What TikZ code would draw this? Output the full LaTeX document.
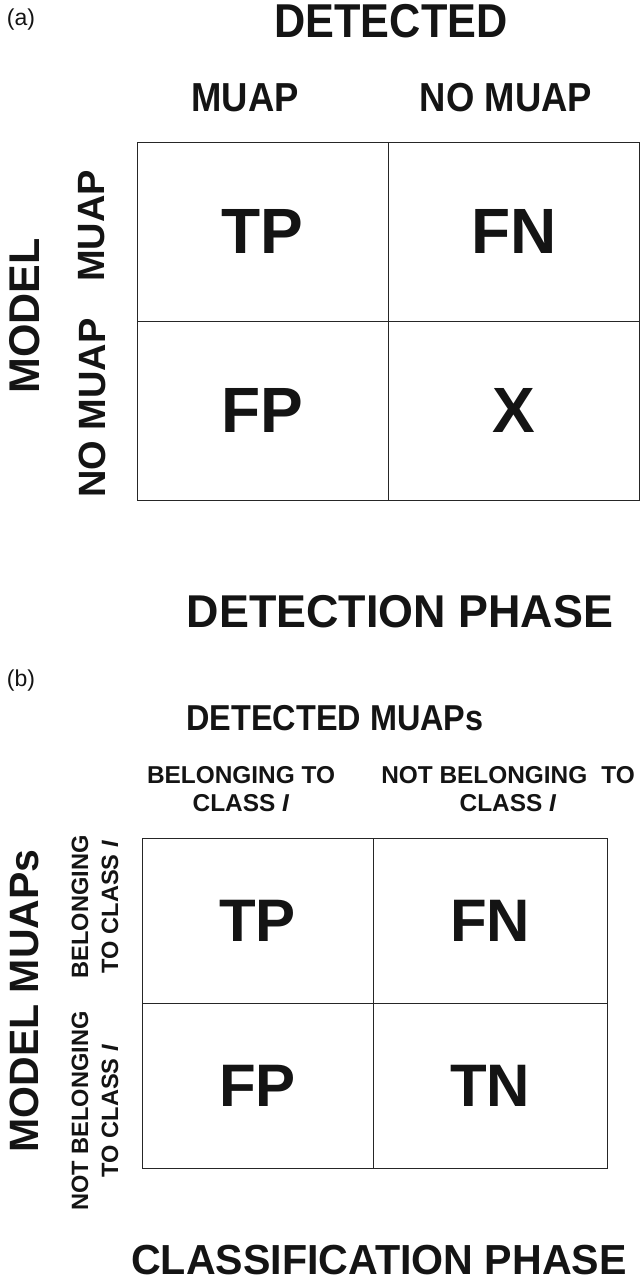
\documentclass[tikz,border=0pt]{standalone}
\usepackage{fontspec}
\setmainfont{Liberation Sans}
\begin{document}
\begin{tikzpicture}[x=1pt,y=-1pt,
  every node/.style={inner sep=0pt,outer sep=0pt,text=black!92},
  fs/.style={font=\bfseries\fontsize{#1}{#1}\selectfont},
  tag/.style={font=\fontsize{23}{23}\selectfont},
  cell/.style={draw=black!85,line width=0.9pt,font=\bfseries\fontsize{#1}{#1}\selectfont},
  head/.style={font=\bfseries\fontsize{24.4}{28}\selectfont,align=center},
  side/.style={font=\bfseries\fontsize{23.6}{30}\selectfont,align=center,rotate=90}
]
\useasboundingbox (0,0) rectangle (640,1281);

% ---------------- (a) detection phase ----------------
\node[tag] (taga) at (21,20) {(a)};
\node[fs=47.5,xscale=0.91] (deta) at (391,21) {DETECTED};
\node[fs=40.5,xscale=0.9] (colA1) at (245,98) {MUAP};
\node[fs=40.5,xscale=0.9] (colA2) at (506,98) {NO MUAP};

\node[cell=64,minimum width=251,minimum height=179] (a11) at (262.5,231.5) {TP};
\node[cell=64,minimum width=251.5,minimum height=179] (a12) at (513.75,231.5) {FN};
\node[cell=64,minimum width=251,minimum height=179] (a21) at (262.5,410.5) {FP};
\node[cell=64,minimum width=251.5,minimum height=179] (a22) at (513.75,410.5) {X};

\node[fs=43,rotate=90] (modela) at (25,316) {MODEL};
\node[fs=38,rotate=90] (rowA1) at (92,226) {MUAP};
\node[fs=38,rotate=90] (rowA2) at (92,408) {NO MUAP};

\node[fs=46,xscale=0.975] (phasea) at (400,612) {DETECTION PHASE};

% ---------------- (b) classification phase ----------------
\node[tag] (tagb) at (21,681) {(b)};
\node[fs=36,xscale=0.9] (detb) at (335,718) {DETECTED MUAPs};
\node[head] (colB1) at (241,789) {BELONGING TO\\CLASS \textit{I}};
\node[head] (colB2) at (508,789) {NOT BELONGING\hspace{14pt}TO\\CLASS \textit{I}};

\node[cell=60,minimum width=231,minimum height=165] (b11) at (257.5,920.5) {TP};
\node[cell=60,minimum width=234,minimum height=165] (b12) at (490,920.5) {FN};
\node[cell=60,minimum width=231,minimum height=165] (b21) at (257.5,1085.5) {FP};
\node[cell=60,minimum width=234,minimum height=165] (b22) at (490,1085.5) {TN};

\node[fs=41,rotate=90] (modelb) at (24,1001) {MODEL MUAPs};
\node[side] (rowB1) at (95,907) {BELONGING\\TO CLASS \textit{I}};
\node[side] (rowB2) at (95,1111) {NOT BELONGING\\TO CLASS \textit{I}};

\node[fs=42,xscale=0.98] (phaseb) at (379,1260) {CLASSIFICATION PHASE};
\end{tikzpicture}
\end{document}
